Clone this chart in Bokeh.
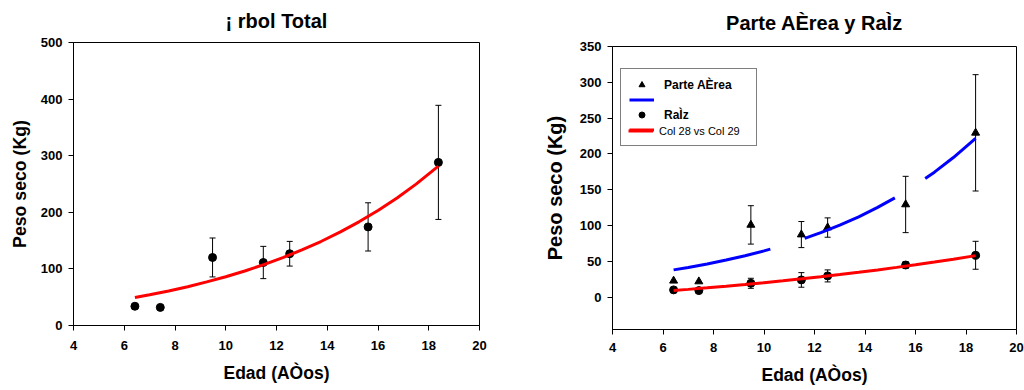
from jinja2 import Template
from bokeh.plotting import figure
from bokeh.models import ColumnDataSource, Whisker, TeeHead, Legend, LegendItem
from bokeh.embed import file_html
from bokeh.resources import INLINE

# Tree age (years)
edad = [6.42, 7.42, 9.48, 11.48, 12.52, 15.61, 18.38]

# Whole-tree dry weight (kg) and its standard deviation
total = [34, 32, 120.2, 111.3, 126.8, 174.2, 288.2]
total_sd = [0, 0, 34.4, 28.5, 21.8, 42.6, 100.8]

# Aerial part and root dry weight (kg) with standard deviations
aerea = [23, 22, 101, 87.5, 97.3, 129.5, 229.5]
aerea_sd = [0, 0, 26.8, 18.2, 13.5, 39.3, 81.2]
raiz = [10.3, 9.3, 19.5, 24.2, 29.8, 45, 58.6]
raiz_sd = [0, 0, 7, 10.2, 8.4, 4.7, 19.5]

# Regression curves sampled along the age axis
fit_edad = [6.42, 7, 7.75, 8.5, 9.25, 10, 10.75, 11.5, 12.25,
            13, 13.75, 14.5, 15.25, 16, 16.75, 17.5, 18.38]
fit_total = [49.3, 54.2, 61.1, 68.6, 77.0, 86.2, 96.3, 107.5, 119.9,
             133.5, 148.4, 165.0, 183.2, 203.3, 225.4, 249.8, 281.7]
fit_aerea = [38.2, 41.6, 46.5, 51.9, 57.9, 64.7, 72.2, 80.7, 90.1,
             100.6, 112.3, 125.4, 140.0, 156.3, 174.6, 195.0, 221.9]
fit_raiz = [9.4, 11.0, 13.2, 15.5, 17.9, 20.4, 23.0, 25.8, 28.7,
            31.7, 34.9, 38.2, 41.7, 45.3, 49.1, 53.2, 58.1]

FONT = "Liberation Sans"
RED = "#ff0000"
BLUE = "#0000ff"


def style(p, xticks, yticks, tick_size, xlabel_standoff, ylabel_size,
          ylabel_standoff, title_standoff):
    p.grid.visible = False
    p.outline_line_color = "black"
    p.outline_line_width = 1
    p.background_fill_color = "white"
    p.border_fill_color = "white"
    p.title.align = "center"
    p.title.vertical_align = "top"
    p.title.standoff = title_standoff
    p.title.text_font = FONT
    p.title.text_font_style = "bold"
    p.title.text_font_size = "20px"
    p.title.text_color = "black"
    p.xaxis.ticker = xticks
    p.yaxis.ticker = yticks
    for ax in (p.xaxis[0], p.yaxis[0]):
        ax.axis_line_color = "black"
        ax.major_tick_line_color = "black"
        ax.major_tick_in = 0
        ax.major_tick_out = 5
        ax.minor_tick_line_color = None
        ax.major_label_text_font = FONT
        ax.major_label_text_font_style = "bold"
        ax.major_label_text_font_size = tick_size
        ax.major_label_text_color = "black"
        ax.axis_label_text_font = FONT
        ax.axis_label_text_font_style = "bold"
        ax.axis_label_text_color = "black"
    p.xaxis.axis_label = "Edad (AÒos)"
    p.xaxis.axis_label_text_font_size = "17.5px"
    p.xaxis.major_label_standoff = xlabel_standoff
    p.xaxis.axis_label_standoff = 10
    p.yaxis.axis_label = "Peso seco (Kg)"
    p.yaxis.axis_label_text_font_size = ylabel_size
    p.yaxis.major_label_standoff = 6
    p.yaxis.axis_label_standoff = ylabel_standoff


def error_bars(p, x, y, sd):
    xs = [a for a, s in zip(x, sd) if s > 0]
    up = [b + s for b, s in zip(y, sd) if s > 0]
    lo = [b - s for b, s in zip(y, sd) if s > 0]
    src = ColumnDataSource(dict(x=xs, upper=up, lower=lo))
    w = Whisker(base="x", upper="upper", lower="lower", source=src,
                line_color="black", line_width=1,
                upper_head=TeeHead(size=6, line_color="black", line_width=1),
                lower_head=TeeHead(size=6, line_color="black", line_width=1))
    p.add_layout(w)


# Left: whole tree
p1 = figure(width=512, height=390, x_range=(4, 20), y_range=(0, 500),
            output_backend="svg", toolbar_location=None,
            min_border_left=73, min_border_right=33,
            min_border_top=42, min_border_bottom=65,
            title="¡ rbol Total")
style(p1, list(range(4, 21, 2)), list(range(0, 501, 100)), "13px", 10, "17.7px", 8, 17)
error_bars(p1, edad, total, total_sd)
p1.scatter(edad, total, marker="circle", size=8, fill_color="black", line_color="black")
p1.line(fit_edad, fit_total, line_color=RED, line_width=3)

# Right: aerial part and root
p2 = figure(width=512, height=390, x_range=(4, 20), y_range=(-45, 350),
            output_backend="svg", toolbar_location=None,
            min_border_left=100, min_border_right=8,
            min_border_top=46, min_border_bottom=61,
            title="Parte AÈrea y RaÌz")
style(p2, list(range(4, 21, 2)), list(range(0, 351, 50)), "13px", 8, "20px", 11, 21)
error_bars(p2, edad, aerea, aerea_sd)
error_bars(p2, edad, raiz, raiz_sd)
tri = p2.scatter(edad, aerea, marker="triangle", size=8, fill_color="black", line_color="black")
dot = p2.scatter(edad, raiz, marker="circle", size=8, fill_color="black", line_color="black")
blue = p2.line(fit_edad, fit_aerea, line_color=BLUE, line_width=3, line_dash="99 36")
red = p2.line(fit_edad, fit_raiz, line_color=RED, line_width=3)

common = dict(location=(8, 183), padding=8, spacing=0, margin=0,
              glyph_width=25, glyph_height=15, label_height=15,
              label_text_font=FONT, label_text_color="black",
              border_line_color="black", border_line_width=1)
leg_a = Legend(items=[LegendItem(label="Parte AÈrea", renderers=[tri]),
                      LegendItem(label=" ", renderers=[blue]),
                      LegendItem(label="RaÌz", renderers=[dot]),
                      LegendItem(label=" ", renderers=[red])],
               label_width=84, label_standoff=10,
               label_text_font_style="bold", label_text_font_size="12px",
               background_fill_color="white", background_fill_alpha=1,
               **common)
leg_b = Legend(items=[LegendItem(label="Col 28 vs Col 29", renderers=[red])],
               label_width=84, label_standoff=6,
               label_text_font_style="normal", label_text_font_size="11px",
               border_line_alpha=0, background_fill_alpha=0,
               **common)
p2.add_layout(leg_a)
p2.add_layout(leg_b)

# Two independent panels laid side by side on the page
page = Template("""{% extends base %}
{% block postamble %}
<style>
  body { display: flex !important; flex-direction: row; align-items: flex-start; }
  body > div { flex: none; }
</style>
{% endblock %}""")

open("out.html", "w").write(file_html([p1, p2], INLINE, template=page))
